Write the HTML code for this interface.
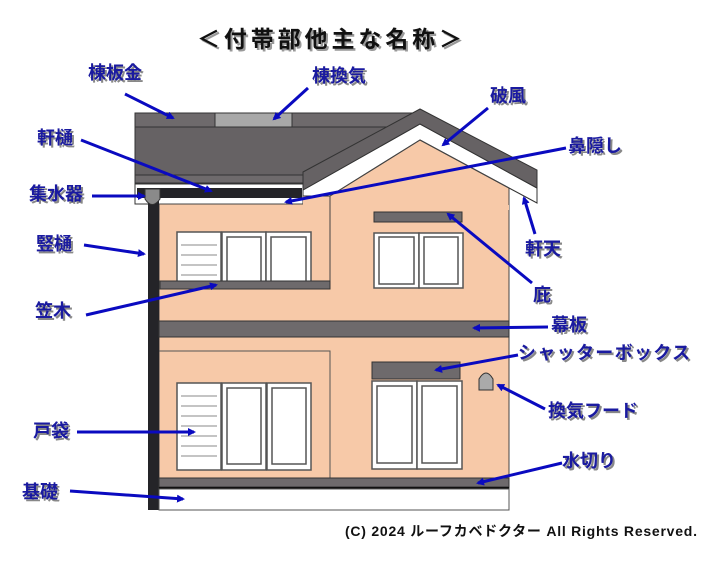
<!DOCTYPE html>
<html><head><meta charset="utf-8"><style>
html,body{margin:0;padding:0;background:#fff;}
svg{display:block;}
.l{font-family:"Liberation Sans","Noto Sans CJK JP",sans-serif;font-weight:bold;font-size:18px;fill:#1a1aa0;}
.sh{font-family:"Liberation Sans","Noto Sans CJK JP",sans-serif;font-weight:bold;font-size:18px;fill:#888;}
</style></head><body>
<svg width="720" height="563" viewBox="0 0 720 563" xmlns="http://www.w3.org/2000/svg">
<defs><marker id="a" markerWidth="8" markerHeight="8" refX="6" refY="4" orient="auto" markerUnits="userSpaceOnUse"><path d="M0,0 L8,4 L0,8 Z" fill="#0a0ac0"/></marker></defs>
<rect x="0" y="0" width="720" height="563" fill="#fff"/>
<!-- main roof -->
<rect x="135" y="113" width="290" height="70" fill="#666264" stroke="#333" stroke-width="1"/>
<rect x="135" y="113" width="290" height="14" fill="#6e6a6c" stroke="#333" stroke-width="1"/>
<rect x="215" y="113" width="77" height="14" fill="#a8a8a8" stroke="#333" stroke-width="1"/>
<rect x="135" y="175" width="168" height="8" fill="#6e6a6c" stroke="#333" stroke-width="1"/>
<rect x="135" y="184" width="168" height="20" fill="#fff" stroke="#333" stroke-width="1"/>
<rect x="137" y="188" width="165" height="10" fill="#242428"/>
<!-- walls -->
<rect x="159" y="204" width="350" height="285" fill="#f7c9a8" stroke="#444" stroke-width="1"/>
<polygon points="303,196 330,196 420,140 509,188 509,210 303,210" fill="#f7c9a8"/>
<!-- gable roof -->
<polygon points="303,190 420,124 537,188 537,203 509,188 420,140 330,196 303,196" fill="#fff" stroke="#333" stroke-width="1"/>
<polygon points="303,172 420,109 537,170 537,188 420,124 303,190" fill="#666264" stroke="#333" stroke-width="1"/>
<line x1="330" y1="196" x2="420" y2="140" stroke="#444"/>
<line x1="420" y1="140" x2="509" y2="188" stroke="#444"/>
<line x1="330" y1="196" x2="330" y2="282" stroke="#444"/>
<line x1="509" y1="188" x2="509" y2="205" stroke="#444"/>
<!-- downspout -->
<rect x="148" y="200" width="11" height="310" fill="#242428"/>
<path d="M145,189 H160 V199 Q152,210 145,199 Z" fill="#8a8a8a" stroke="#333"/>
<!-- upper windows -->
<g stroke="#555" stroke-width="1.5" fill="#fff">
<rect x="177" y="232" width="44" height="50"/>
<rect x="222" y="232" width="44" height="50"/><rect x="227" y="237" width="34" height="45"/>
<rect x="266" y="232" width="45" height="50"/><rect x="271" y="237" width="35" height="45"/>
<rect x="374" y="233" width="45" height="55"/><rect x="379" y="237" width="35" height="47"/>
<rect x="419" y="233" width="44" height="55"/><rect x="424" y="237" width="34" height="47"/>
</g>
<g stroke="#888" stroke-width="1"><line x1="181" y1="245" x2="217" y2="245"/><line x1="181" y1="255" x2="217" y2="255"/><line x1="181" y1="265" x2="217" y2="265"/><line x1="181" y1="275" x2="217" y2="275"/></g>
<rect x="160" y="281" width="170" height="8" fill="#6e6a6c" stroke="#333"/>
<rect x="374" y="212" width="88" height="10" fill="#6e6a6c" stroke="#333"/>
<!-- 幕板 -->
<rect x="159" y="321" width="350" height="16" fill="#6e6a6c" stroke="#333"/>
<polyline points="159,351 330,351 330,478" fill="none" stroke="#555"/>
<!-- lower windows -->
<g stroke="#555" stroke-width="1.5" fill="#fff">
<rect x="177" y="383" width="44" height="87"/>
<rect x="222" y="383" width="44" height="87"/><rect x="227" y="388" width="34" height="76"/>
<rect x="267" y="383" width="44" height="87"/><rect x="272" y="388" width="34" height="76"/>
<rect x="372" y="381" width="45" height="88"/><rect x="377" y="386" width="35" height="77"/>
<rect x="417" y="381" width="45" height="88"/><rect x="422" y="386" width="35" height="77"/>
</g>
<g stroke="#888" stroke-width="1"><line x1="181" y1="396" x2="217" y2="396"/><line x1="181" y1="406" x2="217" y2="406"/><line x1="181" y1="416" x2="217" y2="416"/><line x1="181" y1="426" x2="217" y2="426"/><line x1="181" y1="436" x2="217" y2="436"/><line x1="181" y1="446" x2="217" y2="446"/><line x1="181" y1="456" x2="217" y2="456"/></g>
<rect x="372" y="362" width="88" height="17" fill="#6e6a6c" stroke="#333"/>
<path d="M479,390 V379 Q486,367 493,379 V390 Z" fill="#aaa" stroke="#333"/>
<rect x="159" y="478" width="350" height="9" fill="#6e6a6c" stroke="#333"/>
<rect x="159" y="487" width="350" height="2" fill="#111"/>
<rect x="159" y="489" width="350" height="21" fill="#fff" stroke="#555"/>
<!-- title -->
<text x="199" y="49" textLength="265" font-family="Liberation Sans,Noto Sans CJK JP,sans-serif" font-weight="bold" font-size="23" fill="#999">＜付帯部他主な名称＞</text>
<text x="197" y="47" textLength="265" font-family="Liberation Sans,Noto Sans CJK JP,sans-serif" font-weight="bold" font-size="23" fill="#111">＜付帯部他主な名称＞</text>
<!-- arrows -->
<g stroke="#0a0ac0" stroke-width="3" marker-end="url(#a)" fill="none">
<line x1="125" y1="94" x2="173" y2="118"/>
<line x1="308" y1="88" x2="274" y2="119"/>
<line x1="488" y1="108" x2="443" y2="145"/>
<line x1="566" y1="148" x2="286" y2="202"/>
<line x1="81" y1="140" x2="211" y2="191"/>
<line x1="92" y1="196" x2="144" y2="196"/>
<line x1="84" y1="245" x2="144" y2="254"/>
<line x1="535" y1="234" x2="524" y2="198"/>
<line x1="532" y1="283" x2="448" y2="214"/>
<line x1="86" y1="315" x2="216" y2="285"/>
<line x1="548" y1="327" x2="474" y2="328"/>
<line x1="518" y1="355" x2="436" y2="370"/>
<line x1="545" y1="409" x2="498" y2="385"/>
<line x1="77" y1="432" x2="194" y2="432"/>
<line x1="562" y1="463" x2="478" y2="483"/>
<line x1="70" y1="491" x2="183" y2="499"/>
</g>
<!-- labels -->
<g>
<text class="sh" x="90" y="81">棟板金</text><text class="l" x="88" y="79">棟板金</text>
<text class="sh" x="314" y="84">棟換気</text><text class="l" x="312" y="82">棟換気</text>
<text class="sh" x="492" y="104">破風</text><text class="l" x="490" y="102">破風</text>
<text class="sh" x="570" y="154">鼻隠し</text><text class="l" x="568" y="152">鼻隠し</text>
<text class="sh" x="39" y="146">軒樋</text><text class="l" x="37" y="144">軒樋</text>
<text class="sh" x="31" y="202">集水器</text><text class="l" x="29" y="200">集水器</text>
<text class="sh" x="38" y="252">竪樋</text><text class="l" x="36" y="250">竪樋</text>
<text class="sh" x="527" y="257">軒天</text><text class="l" x="525" y="255">軒天</text>
<text class="sh" x="535" y="303">庇</text><text class="l" x="533" y="301">庇</text>
<text class="sh" x="37" y="319">笠木</text><text class="l" x="35" y="317">笠木</text>
<text class="sh" x="553" y="333">幕板</text><text class="l" x="551" y="331">幕板</text>
<text class="sh" x="520" y="361" textLength="172">シャッターボックス</text><text class="l" x="518" y="359" textLength="172">シャッターボックス</text>
<text class="sh" x="550" y="419">換気フード</text><text class="l" x="548" y="417">換気フード</text>
<text class="sh" x="35" y="439">戸袋</text><text class="l" x="33" y="437">戸袋</text>
<text class="sh" x="564" y="469">水切り</text><text class="l" x="562" y="467">水切り</text>
<text class="sh" x="24" y="500">基礎</text><text class="l" x="22" y="498">基礎</text>
</g>
<text x="345" y="536" font-family="Liberation Sans,Noto Sans CJK JP,sans-serif" font-weight="bold" font-size="14" fill="#111" textLength="352">(C) 2024 ルーフカベドクター All Rights Reserved.</text>
</svg>
</body></html>
